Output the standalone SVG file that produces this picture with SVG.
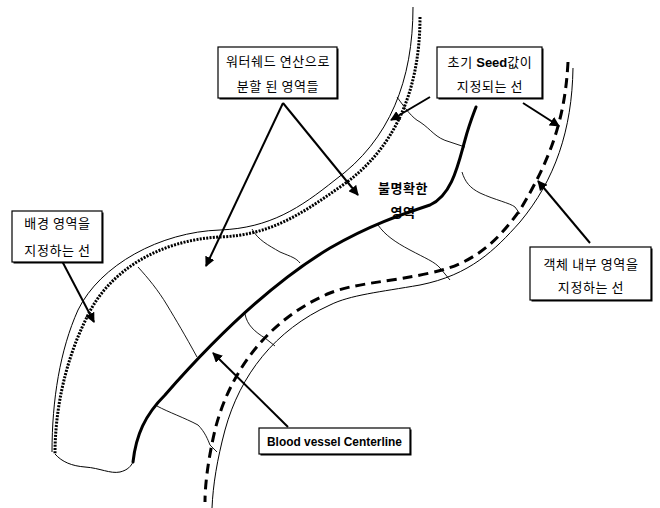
<svg xmlns="http://www.w3.org/2000/svg" width="660" height="508" viewBox="0 0 660 508">
<style>
.box{fill:#fff;stroke:#000;stroke-width:1.2}
.sh{fill:#000}
.t{font-family:"Noto Sans CJK KR","Liberation Sans",sans-serif;font-size:13px;letter-spacing:0.6px;fill:#000;text-anchor:middle}
.b{font-family:"Liberation Sans","Noto Sans CJK KR",sans-serif;font-weight:bold;letter-spacing:0}
.thin{fill:none;stroke:#000;stroke-width:1}
.ws{fill:none;stroke:#000;stroke-width:0.9}
.dot{fill:none;stroke:#000;stroke-width:3;stroke-dasharray:2 1.3}
.dash{fill:none;stroke:#000;stroke-width:3;stroke-dasharray:10 6}
.cl{fill:none;stroke:#000;stroke-width:3;stroke-linecap:round}
.ar{fill:none;stroke:#000;stroke-width:2;marker-end:url(#ah)}
</style>
<defs>
<marker id="ah" viewBox="0 0 10 10" refX="9" refY="5" markerWidth="5" markerHeight="5" orient="auto" markerUnits="strokeWidth">
<path d="M0,0 L10,5 L0,10 z" fill="#000"/>
</marker>
</defs>
<g id="vessel">
<path class="thin" d="M413,7 C413,80 390,140 335,180 C300,208 270,228 220,230 C160,232 100,265 78,310 C60,350 52,400 52,452"/>
<path class="dot" d="M420,17 C420,90 395,150 340,187 C300,215 270,235 220,237 C160,240 110,270 88,315 C65,360 55,410 55,454"/>
<path class="thin" d="M55,454 C62,462 72,466 85,467 C100,468 110,474 120,472 C128,470 131,466 133,462"/>
<path class="cl" d="M133,462 C136,435 145,415 165,395 C200,355 260,290 330,248 C370,225 400,215 430,205 C452,195 458,165 465,140 C469,125 473,115 476,107"/>
<path class="dash" d="M568,62 C565,120 550,160 520,210 C495,245 470,265 430,273 C390,282 355,283 330,293 C270,318 230,370 215,430 C208,460 205,485 205,502"/>
<path class="thin" d="M573,68 C572,130 555,180 520,222 C495,250 470,275 420,285 C380,292 350,295 330,305 C275,330 240,375 225,430 C217,460 213,485 212,508"/>
</g>
<g id="watershed">
<path class="ws" d="M397,97 C405,108 412,118 420,122 C432,130 435,138 450,142 L465,147"/>
<path class="ws" d="M462,172 C465,182 470,188 480,193 C495,200 510,203 515,207 L520,214"/>
<path class="ws" d="M378,225 C385,235 395,242 410,250 C425,258 435,262 440,268 L450,280"/>
<path class="ws" d="M252,229 C258,240 268,245 280,252 C292,257 296,258 300,263"/>
<path class="ws" d="M138,267 C148,278 158,290 167,305 C176,320 185,335 197,357"/>
<path class="ws" d="M245,314 C247,325 255,332 265,338 L275,346"/>
<path class="ws" d="M157,406 C168,412 185,418 198,425 C205,432 208,440 210,445 L217,452"/>
</g>
<g id="connectors">
<path class="ar" d="M283,103 L206,266"/>
<path class="ar" d="M283,103 L358,195"/>
<path class="ar" d="M430,97 L391,120"/>
<path class="ar" d="M523,103 L559,126"/>
<path class="ar" d="M590,243 L538,181"/>
<path class="ar" d="M62,261 L94,322"/>
<path class="ar" d="M288,427 L213,353"/>
</g>
<g id="n-watershed">
<rect class="sh" x="219.5" y="48.5" width="119" height="51"/>
<rect class="box" x="218" y="47" width="119" height="51"/>
<text class="t" x="278" y="66">워터쉐드 연산으로</text>
<text class="t" x="278" y="91">분할 된 영역들</text>
</g>
<g id="n-seed">
<rect class="sh" x="438.5" y="48.5" width="105" height="51"/>
<rect class="box" x="437" y="47" width="105" height="51"/>
<text class="t" x="490" y="67">초기 <tspan class="b">Seed</tspan>값이</text>
<text class="t" x="490" y="91">지정되는 선</text>
</g>
<g id="n-background">
<rect class="sh" x="13.5" y="212.5" width="90" height="51"/>
<rect class="box" x="12" y="211" width="90" height="51"/>
<text class="t" x="57.5" y="228">배경 영역을</text>
<text class="t" x="57.5" y="255">지정하는 선</text>
</g>
<g id="n-object">
<rect class="sh" x="531.5" y="248.5" width="121" height="53"/>
<rect class="box" x="530" y="247" width="121" height="53"/>
<text class="t" x="591" y="269">객체 내부 영역을</text>
<text class="t" x="591" y="292">지정하는 선</text>
</g>
<g id="n-centerline">
<rect class="sh" x="260.5" y="429.5" width="151" height="26"/>
<rect class="box" x="259" y="428" width="151" height="26"/>
<text class="t b" x="334.5" y="445.5" style="font-size:12px" textLength="135" lengthAdjust="spacingAndGlyphs">Blood vessel Centerline</text>
</g>
<g id="n-unclear">
<text class="t" x="403" y="193" style="font-weight:bold">불명확한</text>
<text class="t" x="403" y="217" style="font-weight:bold">영역</text>
</g>
</svg>
